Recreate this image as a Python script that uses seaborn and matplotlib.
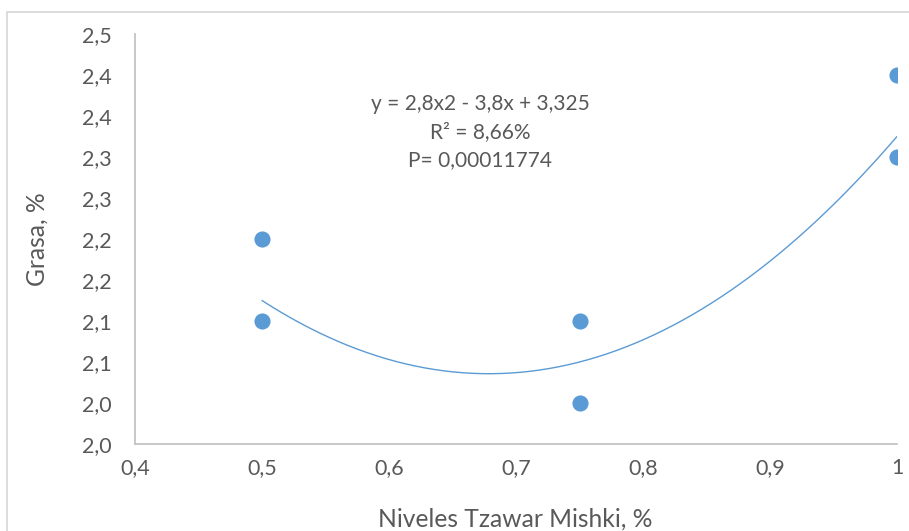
import numpy as np
import pandas as pd
import seaborn as sns
import matplotlib.pyplot as plt
from matplotlib.patches import Rectangle

# data
niveles = [0.5, 0.5, 0.75, 0.75, 1.0, 1.0]
grasa = [2.2, 2.1, 2.1, 2.0, 2.4, 2.3]

# trendline coefficients as printed on the chart (y = 2,8x2 - 3,8x + 3,325)
coefs = [2.8, -3.8, 3.325]

x_ticks = [0.4, 0.5, 0.6, 0.7, 0.8, 0.9, 1.0]
x_labels = ['0,4', '0,5', '0,6', '0,7', '0,8', '0,9', '1']
y_ticks = [1.95, 2.0, 2.05, 2.1, 2.15, 2.2, 2.25, 2.3, 2.35, 2.4, 2.45]
y_labels = ['2,0', '2,0', '2,1', '2,1', '2,2', '2,2', '2,3', '2,3', '2,4', '2,4', '2,5']

df = pd.DataFrame({'Niveles': niveles, 'Grasa': grasa})

# trendline over the range of the data
xs = np.linspace(min(niveles), max(niveles), 200)
trend = pd.DataFrame({'x': xs, 'y': np.polyval(coefs, xs)})

sns.set_theme(style='white')
plt.rcParams['font.family'] = ['Lato', 'DejaVu Sans']
text_color = '#595959'
blue = '#5b9bd5'

fig = plt.figure(figsize=(9.09, 5.31), dpi=100)
ax = fig.add_axes([135 / 909, 1 - 444 / 531, 762 / 909, 410 / 531])

sns.lineplot(x='x', y='y', data=trend, ax=ax, color=blue, linewidth=1.0)
sns.scatterplot(x='Niveles', y='Grasa', data=df, ax=ax, color=blue, s=135,
                edgecolor=None, linewidth=0, zorder=3)

ax.set_xlim(0.4, 1.0)
ax.set_ylim(1.95, 2.45)
ax.set_xticks(x_ticks)
ax.set_xticklabels(x_labels)
ax.set_yticks(y_ticks)
ax.set_yticklabels(y_labels)
ax.tick_params(axis='both', length=0, labelsize=15.5, labelcolor=text_color)
ax.tick_params(axis='x', pad=10)
ax.tick_params(axis='y', pad=17)

for side in ['top', 'right']:
    ax.spines[side].set_visible(False)
for side in ['left', 'bottom']:
    ax.spines[side].set_color('#bfbfbf')
    ax.spines[side].set_linewidth(1.2)

ax.set_xlabel('Niveles Tzawar Mishki, %', fontsize=17.7, color=text_color, va='center')
ax.set_ylabel('Grasa, %', fontsize=17.7, color=text_color, va='center')
ax.xaxis.set_label_coords(0.4987, -0.183)
ax.yaxis.set_label_coords(-0.129, 0.5)

ax.text(0.4528, 0.761, 'y = 2,8x2 - 3,8x + 3,325\nR² = 8,66%\nP= 0,00011774',
        transform=ax.transAxes, ha='center', va='center', fontsize=15,
        color=text_color, linespacing=1.5)

# light frame around the chart area
fig.patches.append(Rectangle((7.5 / 909, -0.1), 1.2, 1 - 11.5 / 531 + 0.1,
                             transform=fig.transFigure, fill=False,
                             edgecolor='#d9d9d9', linewidth=1.3))

fig.savefig('out.png', dpi=100)
